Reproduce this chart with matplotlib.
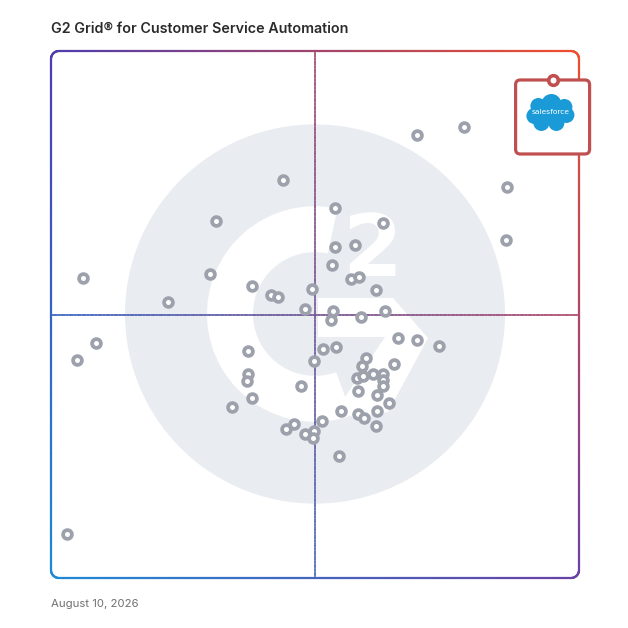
import numpy as np
import matplotlib
matplotlib.use('Agg')
import matplotlib.pyplot as plt
from matplotlib.collections import LineCollection
from matplotlib.patches import Circle, Ellipse, Wedge, Polygon, FancyBboxPatch

# Satisfaction (x) and market presence (y), 0-100 grid scale
satisfaction = [69.3, 78.2, 86.4, 86.1, 43.9, 53.8, 31.3, 62.8, 53.8, 57.6,
                53.2, 30.2, 56.8, 58.4, 38.1, 41.6, 42.9, 49.4, 61.6, 22.2,
                48.2, 53.5, 53.1, 58.8, 63.3, 65.7, 69.3, 73.4, 37.4, 51.5,
                54.0, 49.9, 59.7, 64.9, 58.9, 37.4, 37.1, 57.9, 59.1, 60.9,
                62.8, 62.9, 62.9, 58.1, 61.8, 64.0, 47.3, 38.1, 34.2, 55.0,
                58.2, 59.3, 61.8, 61.6, 44.5, 46.0, 51.4, 48.2, 49.9, 49.7,
                54.5, 6.1, 8.5, 4.9, 3.0]
presence = [84.1, 85.6, 74.2, 64.2, 75.5, 70.2, 67.7, 67.3, 62.9, 63.2,
            59.4, 57.6, 56.8, 57.2, 55.4, 53.7, 53.3, 54.8, 54.7, 52.3,
            51.0, 50.7, 49.0, 49.6, 50.6, 45.5, 45.2, 44.1, 43.1, 43.5,
            43.9, 41.1, 41.8, 40.6, 40.3, 38.8, 37.4, 37.9, 38.3, 38.8,
            38.7, 37.6, 36.4, 35.4, 34.7, 33.3, 36.5, 34.2, 32.4, 31.6,
            31.2, 30.3, 31.7, 28.8, 28.3, 29.2, 29.7, 27.3, 27.9, 26.6,
            23.2, 56.9, 44.6, 41.4, 8.3]

# highlighted product
leader_name = 'salesforce'
leader_sat = 95.0
leader_pres = 94.5

title = 'G2 Grid® for Customer Service Automation'
date_label = 'August 10, 2026'

W, H = 628, 628
L, R, T, B = 51, 579, 51, 578


def fx(x):
    return (x - L) / (R - L)


def fy(y):
    return (B - y) / (B - T)


# gradient corner colours (top-left, top-right, bottom-left, bottom-right)
c_tl = np.array([0x4e, 0x3c, 0xae]) / 255
c_tr = np.array([0xf2, 0x4e, 0x2c]) / 255
c_bl = np.array([0x1e, 0x8a, 0xd6]) / 255
c_br = np.array([0x6b, 0x40, 0xa6]) / 255


def grad(u, v):
    # u: 0 left -> 1 right, v: 0 bottom -> 1 top
    top = (1 - u) * c_tl + u * c_tr
    bot = (1 - u) * c_bl + u * c_br
    return tuple(v * top + (1 - v) * bot)


def gradient_line(ax, pts, lw, alpha=1.0, z=3):
    pts = np.asarray(pts)
    segs = np.stack([pts[:-1], pts[1:]], axis=1)
    mid = (pts[:-1] + pts[1:]) / 2
    cols = [grad(u, v) + (alpha,) for u, v in mid]
    lc = LineCollection(segs, colors=cols, linewidths=lw, transform=ax.transAxes,
                        zorder=z, clip_on=False, capstyle='round')
    ax.add_collection(lc)


fig = plt.figure(figsize=(W / 100, H / 100), dpi=100)
ax = fig.add_axes([L / W, 1 - B / H, (R - L) / W, (B - T) / H])
ax.set_xlim(0, 100)
ax.set_ylim(0, 100)
ax.axis('off')

# G2 watermark
wm = '#e9ecf0'
cx, cy = fx(315), fy(314)
ax.add_patch(Circle((cx, cy), 190 / 528, color=wm, transform=ax.transAxes, zorder=0, lw=0))
ax.add_patch(Wedge((cx, cy), 108 / 528, 78, 290, width=46 / 528, color='white',
                   transform=ax.transAxes, zorder=1, lw=0))
chev = [(318, 298), (393, 298), (428, 338), (388, 412), (352, 417),
        (343, 400), (385, 337), (318, 337)]
ax.add_patch(Polygon([(fx(a), fy(b)) for a, b in chev], closed=True, color='white',
                     transform=ax.transAxes, zorder=1, lw=0))
ax.text(fx(372), fy(252), '2', color='white', fontsize=62, fontweight='bold',
        ha='center', va='center', transform=ax.transAxes, zorder=1)

# frame with rounded corners
r = 8 / 528
n = 200
pts = []
def arc(c0, c1, a0, a1):
    t = np.linspace(np.radians(a0), np.radians(a1), 20)
    return list(zip(c0 + r * np.cos(t), c1 + r * np.sin(t)))
pts += list(zip(np.linspace(r, 1 - r, n), np.ones(n)))
pts += arc(1 - r, 1 - r, 90, 0)
pts += list(zip(np.ones(n), np.linspace(1 - r, r, n)))
pts += arc(1 - r, r, 0, -90)
pts += list(zip(np.linspace(1 - r, r, n), np.zeros(n)))
pts += arc(r, r, -90, -180)
pts += list(zip(np.zeros(n), np.linspace(r, 1 - r, n)))
pts += arc(r, 1 - r, 180, 90)
gradient_line(ax, pts, lw=1.6)

# quadrant lines
gradient_line(ax, list(zip(np.full(n, 0.5), np.linspace(0, 1, n))), lw=1.3, alpha=0.8, z=2)
gradient_line(ax, list(zip(np.linspace(0, 1, n), np.full(n, 0.5))), lw=1.3, alpha=0.85, z=2)

# products
ax.scatter(satisfaction, presence, s=40, facecolors='white', edgecolors='#9ca1ac',
           linewidths=2.7, zorder=4)

# highlighted product box
red = '#c0504f'
bw, bh = 37 / 5.28, 74 / 5.27
ax.add_patch(FancyBboxPatch((leader_sat - bw, leader_pres - bh), 2 * bw, bh,
                            boxstyle='round,pad=0,rounding_size=0.9', facecolor='white',
                            edgecolor=red, linewidth=2.3, zorder=5, clip_on=False))
ccx, ccy = leader_sat - 2.2 / 5.28, leader_pres - 33 / 5.27
blue = '#1a9ad6'
blobs = [(-12, -7, 8), (1, -9, 10), (14, -6, 8), (-16, 3, 8), (16, 2, 8),
         (-9, 10, 8), (6, 10, 8)]
for dx, dy, rr in blobs:
    ax.add_patch(Circle((ccx + dx / 5.28, ccy - dy / 5.27), rr / 5.28, color=blue,
                        zorder=6, lw=0, clip_on=False))
ax.add_patch(Ellipse((ccx, ccy), 40 / 5.28, 24 / 5.27, color=blue, zorder=6, lw=0,
                     clip_on=False))
ax.text(ccx, ccy + 0.2, leader_name, color='white', fontsize=5.4, ha='center', va='center',
        zorder=7, clip_on=False)
ax.scatter([leader_sat], [leader_pres], s=48, facecolors='white', edgecolors=red,
           linewidths=2.6, zorder=8, clip_on=False)

fig.text(L / W, 1 - 29 / H, title, fontsize=10.3, fontweight='semibold', family='Inter',
         color='#2b2b2b', ha='left', va='center')
fig.text(L / W, 1 - 604 / H, date_label, fontsize=8.2, family='Inter', color='#707070',
         ha='left', va='center')

fig.savefig('out.png', dpi=100)
